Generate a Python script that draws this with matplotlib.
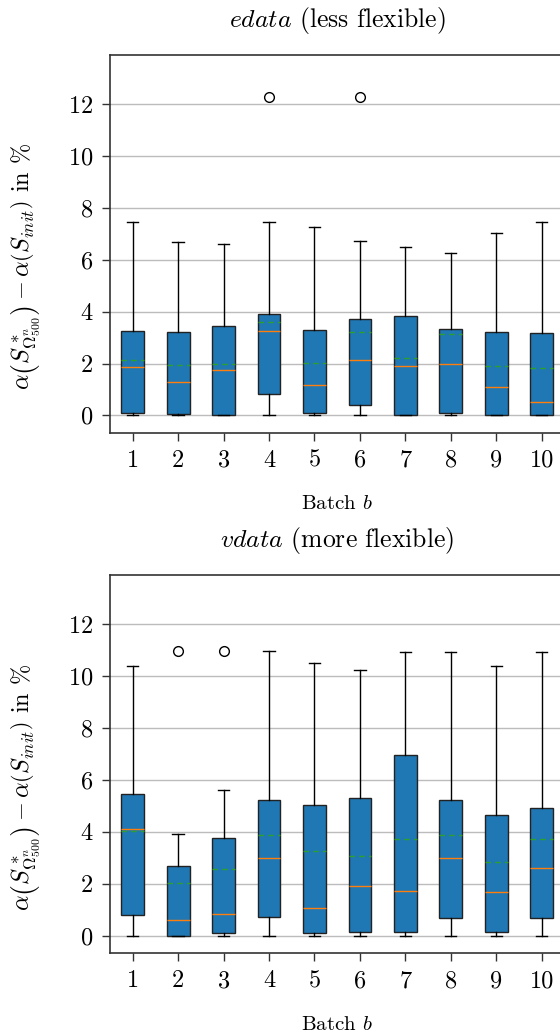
import matplotlib
matplotlib.use("Agg")
import matplotlib.pyplot as plt

plt.rcParams['font.family'] = 'serif'
plt.rcParams['font.serif'] = ['cmr10']
plt.rcParams['mathtext.fontset'] = 'cm'
plt.rcParams['axes.formatter.use_mathtext'] = True
plt.rcParams['axes.unicode_minus'] = False

batches = [1, 2, 3, 4, 5, 6, 7, 8, 9, 10]

# edata (less flexible)
e_whislo = [0, 0, 0, 0, 0, 0, 0, 0, 0, 0]
e_q1 = [0.09, 0.07, 0.0, 0.82, 0.09, 0.41, 0.0, 0.09, 0.0, 0.0]
e_med = [1.86, 1.29, 1.75, 3.25, 1.17, 2.15, 1.90, 2.00, 1.11, 0.52]
e_mean = [2.13, 1.94, 1.99, 3.61, 2.02, 3.21, 2.20, 3.14, 1.92, 1.81]
e_q3 = [3.25, 3.22, 3.43, 3.91, 3.29, 3.73, 3.85, 3.35, 3.22, 3.16]
e_whishi = [7.44, 6.67, 6.60, 7.44, 7.26, 6.71, 6.48, 6.26, 7.04, 7.44]
e_fliers = [[], [], [], [12.29], [], [12.29], [], [], [], []]

# vdata (more flexible)
v_whislo = [0, 0, 0, 0, 0, 0, 0, 0, 0, 0]
v_q1 = [0.81, 0.0, 0.12, 0.71, 0.10, 0.13, 0.13, 0.68, 0.13, 0.68]
v_med = [4.12, 0.60, 0.82, 2.98, 1.07, 1.90, 1.73, 2.98, 1.67, 2.60]
v_mean = [4.02, 2.04, 2.58, 3.87, 3.26, 3.06, 3.71, 3.87, 2.83, 3.73]
v_q3 = [5.47, 2.67, 3.76, 5.22, 5.02, 5.32, 6.98, 5.23, 4.64, 4.93]
v_whishi = [10.38, 3.91, 5.60, 10.96, 10.50, 10.24, 10.95, 10.95, 10.38, 10.92]
v_fliers = [[], [10.96], [10.96], [], [], [], [], [], [], []]

yticks = [0, 2, 4, 6, 8, 10, 12]
titles = [r"$edata$ (less flexible)", r"$vdata$ (more flexible)"]
ylabel = r"$\alpha\left(S^*_{\Omega^n_{500}}\right) - \alpha\left(S_{init}\right)$ in %"
xlabel = r"Batch $b$"


def stats(wlo, q1, med, mean, q3, whi, fl):
    out = []
    for i in range(len(med)):
        out.append(dict(whislo=wlo[i], q1=q1[i], med=med[i], mean=mean[i],
                        q3=q3[i], whishi=whi[i], fliers=fl[i]))
    return out


W, H = 560, 1036
fig = plt.figure(figsize=(W / 100, H / 100), dpi=100)
left = 110 / W
width = (564.4 - 110) / W
ax1 = fig.add_axes([left, 1 - 433 / H, width, (433 - 55) / H])
ax2 = fig.add_axes([left, 1 - 953.3 / H, width, (953.3 - 575) / H])

datasets = [
    stats(e_whislo, e_q1, e_med, e_mean, e_q3, e_whishi, e_fliers),
    stats(v_whislo, v_q1, v_med, v_mean, v_q3, v_whishi, v_fliers),
]

for ax, st, title in zip([ax1, ax2], datasets, titles):
    ax.set_axisbelow(True)
    ax.yaxis.grid(True, color='#bcbcbc', linewidth=1.0)
    ax.bxp(st, positions=batches, widths=0.5, patch_artist=True,
           showmeans=True, meanline=True,
           boxprops=dict(facecolor='#1f77b4', edgecolor='#222222', linewidth=1.0),
           medianprops=dict(color='#ff7f0e', linewidth=1.0),
           meanprops=dict(color='#2ca02c', linestyle=(0, (4, 3)), linewidth=1.0),
           whiskerprops=dict(color='black', linewidth=1.0),
           capprops=dict(color='black', linewidth=1.0),
           flierprops=dict(marker='o', markerfacecolor='none',
                           markeredgecolor='black', markersize=7))
    ax.set_xlim(0.5, 10.5)
    ax.set_ylim(-0.68, 13.9)
    ax.set_yticks(yticks)
    ax.set_xticks(batches)
    ax.set_xticklabels([str(b) for b in batches])
    ax.tick_params(axis='both', labelsize=17.5, length=6, width=1.0,
                   color='#333333', pad=6)
    for s in ax.spines.values():
        s.set_color('#333333')
        s.set_linewidth(1.2)
    ax.set_title(title, fontsize=18.5, pad=20)
    ax.set_xlabel(xlabel, fontsize=15, labelpad=17)
    ax.set_ylabel(ylabel, fontsize=17.5)
    ax.yaxis.set_label_coords(-0.147, 0.44)

fig.savefig("out.png", dpi=100)
